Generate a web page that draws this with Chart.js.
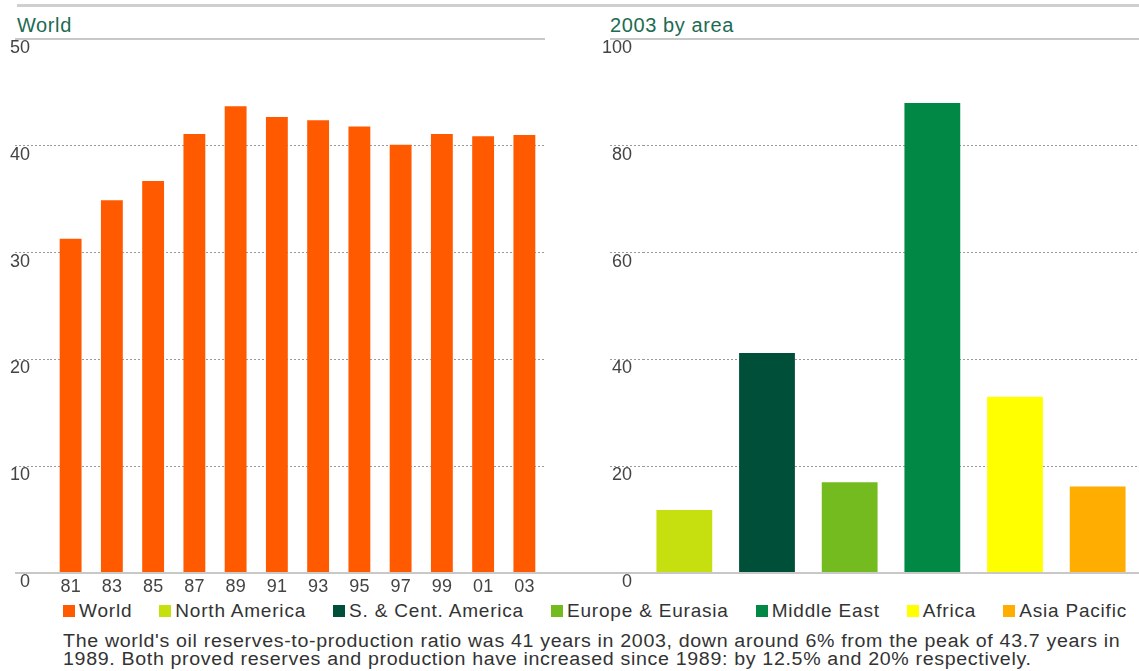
<!DOCTYPE html>
<html lang="en">
<head>
  <meta charset="utf-8">
  <title>Oil reserves-to-production ratio</title>
  <script src="https://cdn.jsdelivr.net/npm/chart.js"></script>
  <style>
    body { margin: 0; background: #fff; font-family: "Liberation Sans", Arial, sans-serif; }
    #page { position: relative; width: 1139px; height: 671px; overflow: hidden; }
    .rule { position: absolute; top: 4px; left: 17px; right: 0; height: 3px; background: #cfcfcf; }
    .title { position: absolute; top: 14px; font-size: 20px; color: #1d6b52; letter-spacing: 0.6px; }
    #left_chart { position: absolute; left: 0; top: 0; }
    #right_chart { position: absolute; left: 560px; top: 0; }
    #legend { position: absolute; left: 63px; top: 601px; display: flex; font-size: 19px; line-height: 20px; color: #333; letter-spacing: 0.8px; white-space: nowrap; }
    #legend .item { display: flex; align-items: center; flex-shrink: 0; margin-right: 27px; }
    #legend i { display: inline-block; width: 12px; height: 12px; margin-right: 4px; }
    #caption { position: absolute; left: 63px; top: 632px; font-size: 18px; line-height: 18px; color: #333; letter-spacing: 0.6px; white-space: nowrap; transform: scaleX(1.09); transform-origin: 0 0; }
  </style>
</head>
<body>
  <div id="page">
    <div class="rule"></div>
    <div class="title" style="left:17px;">World</div>
    <div class="title" style="left:610px;">2003 by area</div>
    <canvas id="left_chart" width="560" height="600"></canvas>
    <canvas id="right_chart" width="579" height="600"></canvas>
    <div id="legend"></div>
    <div id="caption">The world's oil reserves-to-production ratio was 41 years in 2003, down around 6% from the peak of 43.7 years in<br>1989. Both proved reserves and production have increased since 1989: by 12.5% and 20% respectively.</div>
  </div>

  <script>
    // world R/P ratio, years
    var years = ['81', '83', '85', '87', '89', '91', '93', '95', '97', '99', '01', '03'];
    var worldRatio = [31.3, 34.9, 36.7, 41.1, 43.7, 42.7, 42.4, 41.8, 40.1, 41.1, 40.9, 41.0];
    var worldTicks = [0, 10, 20, 30, 40, 50];

    // 2003 by area
    var areas = ['North America', 'S. & Cent. America', 'Europe & Eurasia', 'Middle East', 'Africa', 'Asia Pacific'];
    var areaRatio = [11.8, 41.2, 17.0, 88.0, 33.0, 16.2];
    var areaTicks = [0, 20, 40, 60, 80, 100];

    var worldColor = '#ff5a00';
    var areaColors = ['#c6e00f', '#004f38', '#74bb20', '#008844', '#ffff00', '#ffad00'];

    Chart.defaults.font.family = '"Liberation Sans", Arial, sans-serif';
    Chart.defaults.font.size = 18;
    Chart.defaults.color = '#444';

    // solid rules at 0 and at the top, dotted in between
    function gridFor(ticks, tickLen) {
      var top = ticks[ticks.length - 1];
      function edge(c) { return c.tick && (c.tick.value === 0 || c.tick.value === top); }
      return {
        grid: {
          color: function(c) { return edge(c) ? '#c8c8c8' : '#9a9a9a'; },
          lineWidth: function(c) { return edge(c) ? 2 : 1; },
          tickColor: function(c) { return edge(c) ? '#c8c8c8' : '#9a9a9a'; },
          tickWidth: function(c) { return edge(c) ? 2 : 1; },
          tickBorderDash: function(c) { return edge(c) ? [] : [2, 2]; },
          tickLength: tickLen
        },
        border: {
          display: false,
          dash: function(c) { return edge(c) ? [] : [2, 2]; }
        }
      };
    }

    // carries the zero line across the gap between the two panels
    var baseline = {
      id: 'baseline',
      beforeDatasetsDraw: function(chart, args, opts) {
        var y = Math.round(chart.scales.y.getPixelForValue(0));
        var a = chart.chartArea;
        var ctx = chart.ctx;
        ctx.save();
        ctx.strokeStyle = '#c8c8c8';
        ctx.lineWidth = 2;
        ctx.beginPath();
        if (opts.side === 'right') { ctx.moveTo(a.right, y); ctx.lineTo(chart.width, y); }
        else { ctx.moveTo(0, y); ctx.lineTo(a.left, y); }
        ctx.stroke();
        ctx.restore();
      }
    };

    var leftGrid = gridFor(worldTicks, 35);
    var leftChart = new Chart(document.getElementById('left_chart'), {
      type: 'bar',
      data: {
        labels: years,
        datasets: [{
          label: 'World',
          data: worldRatio,
          backgroundColor: worldColor,
          borderWidth: 0,
          barPercentage: 0.53,
          categoryPercentage: 1
        }]
      },
      plugins: [baseline],
      options: {
        responsive: false,
        animation: false,
        layout: { padding: { top: 39, right: 15, bottom: 0, left: 0 } },
        plugins: {
          legend: { display: false },
          tooltip: { enabled: false },
          baseline: { side: 'right' }
        },
        scales: {
          x: {
            grid: { display: false, drawTicks: false },
            border: { display: false },
            ticks: { padding: 3, maxRotation: 0, autoSkip: false },
            afterFit: function(s) { s.height = 27; }
          },
          y: {
            min: 0,
            max: worldTicks[worldTicks.length - 1],
            afterBuildTicks: function(s) { s.ticks = worldTicks.map(function(v) { return { value: v }; }); },
            grid: leftGrid.grid,
            border: leftGrid.border,
            ticks: { padding: -15, labelOffset: 9 },
            afterFit: function(s) { s.width = 50; }
          }
        }
      }
    });

    var rightGrid = gridFor(areaTicks, 33);
    var rightChart = new Chart(document.getElementById('right_chart'), {
      type: 'bar',
      data: {
        labels: areas,
        datasets: [{
          label: '2003',
          data: areaRatio,
          backgroundColor: areaColors,
          borderWidth: 0,
          barPercentage: 0.675,
          categoryPercentage: 1
        }]
      },
      plugins: [baseline],
      options: {
        responsive: false,
        animation: false,
        layout: { padding: { top: 39, right: 0, bottom: 0, left: 0 } },
        plugins: {
          legend: { display: false },
          tooltip: { enabled: false },
          baseline: { side: 'left' }
        },
        scales: {
          x: {
            grid: { display: false, drawTicks: false },
            border: { display: false },
            ticks: { display: false },
            afterFit: function(s) { s.height = 27; }
          },
          y: {
            min: 0,
            max: areaTicks[areaTicks.length - 1],
            afterBuildTicks: function(s) { s.ticks = areaTicks.map(function(v) { return { value: v }; }); },
            grid: rightGrid.grid,
            border: rightGrid.border,
            ticks: { padding: -22, labelOffset: 9 },
            afterFit: function(s) { s.width = 83; }
          }
        }
      }
    });

    // legend shared by both panels
    var legendItems = [{ text: 'World', color: worldColor }];
    for (var i = 0; i < areas.length; i++) {
      legendItems.push({ text: areas[i], color: areaColors[i] });
    }
    var legend = document.getElementById('legend');
    legendItems.forEach(function(it) {
      var span = document.createElement('span');
      span.className = 'item';
      var box = document.createElement('i');
      box.style.background = it.color;
      span.appendChild(box);
      span.appendChild(document.createTextNode(it.text));
      legend.appendChild(span);
    });
  </script>
</body>
</html>
